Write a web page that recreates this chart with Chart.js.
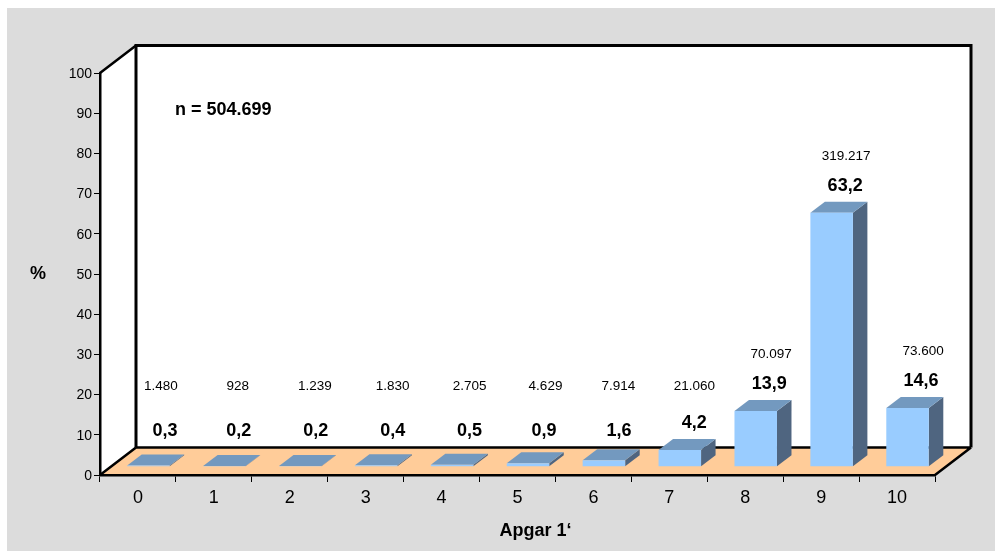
<!DOCTYPE html>
<html>
<head>
<meta charset="utf-8">
<style>html,body{margin:0;padding:0;background:#fff}canvas{display:block}</style>
<script src="https://cdn.jsdelivr.net/npm/chart.js@4/dist/chart.umd.min.js"></script>
</head>
<body>
<canvas id="apgar" width="995" height="551"></canvas>
<script>
// Apgar score after one minute: share of births per score and absolute counts
const scores = ['0','1','2','3','4','5','6','7','8','9','10'];
const percentValues = [0.3,0.2,0.2,0.4,0.5,0.9,1.6,4.2,13.9,63.2,14.6];
const percentLabels = ['0,3','0,2','0,2','0,4','0,5','0,9','1,6','4,2','13,9','63,2','14,6'];
const countLabels = ['1.480','928','1.239','1.830','2.705','4.629','7.914','21.060','70.097','319.217','73.600'];
const yTicks = [0,10,20,30,40,50,60,70,80,90,100];
const sampleNote = 'n = 504.699';
const yTitle = '%';
const xTitle = 'Apgar 1\u2018';

const FONT = '"Liberation Sans", Arial, sans-serif';
const C = {
  panel:'#DCDCDC', floor:'#FFCC99', wall:'#FFFFFF', line:'#000000',
  front:'#99CCFF', top:'#7399BF', side:'#4F6580'
};
// Room depth (floor and walls) and per-bar depth, in pixels
const ROOM = {dx:36, dy:-27.5};
const BAR = {dx:14.5, dy:-11, shiftX:10.5, shiftY:-8.2};
// Hand placement of the annotation columns relative to each category centre
const percentNudgeX = [27,25,26,27,28,26.5,25.5,25,24,24,24];
const countNudgeX = [23,24,25,27,28,28,25,25,26,25,26];

function poly(ctx, pts, fill){
  ctx.beginPath();
  pts.forEach((p,i)=> i ? ctx.lineTo(p[0],p[1]) : ctx.moveTo(p[0],p[1]));
  ctx.closePath();
  ctx.fillStyle = fill;
  ctx.fill();
}

const room3d = {
  id:'room3d',
  beforeDraw(chart){
    const {ctx, chartArea:{left:l,right:r,top:t,bottom:b}} = chart;
    const dx = ROOM.dx, dy = ROOM.dy;
    ctx.save();
    ctx.fillStyle = C.panel;
    ctx.fillRect(7,8,chart.width-7,chart.height-8);
    poly(ctx,[[l+dx,t+dy],[r+dx,t+dy],[r+dx,b+dy],[l+dx,b+dy]],C.wall);
    poly(ctx,[[l,t],[l+dx,t+dy],[l+dx,b+dy],[l,b]],C.wall);
    poly(ctx,[[l,b],[r,b],[r+dx,b+dy],[l+dx,b+dy]],C.floor);
    ctx.strokeStyle = C.line;
    ctx.lineJoin = 'miter';
    ctx.lineWidth = 2.5;
    ctx.beginPath();
    ctx.moveTo(l,t); ctx.lineTo(l+dx,t+dy);
    ctx.moveTo(l,b); ctx.lineTo(l+dx,b+dy);
    ctx.moveTo(r,b); ctx.lineTo(r+dx,b+dy);
    ctx.moveTo(l+dx,b+dy); ctx.lineTo(r+dx,b+dy);
    ctx.stroke();
    ctx.lineWidth = 3;
    ctx.beginPath();
    ctx.moveTo(l+dx,b+dy); ctx.lineTo(l+dx,t+dy); ctx.lineTo(r+dx,t+dy); ctx.lineTo(r+dx,b+dy);
    ctx.stroke();
    ctx.restore();
  },
  beforeDatasetDraw(chart, args){
    const ctx = chart.ctx;
    // Side and top faces go under the front face the library draws next
    args.meta.data.forEach(bar=>{
      const {x,y,base,width} = bar.getProps(['x','y','base','width'],true);
      const L = x-width/2+BAR.shiftX, R = x+width/2+BAR.shiftX;
      const T = y+BAR.shiftY, B = base+BAR.shiftY;
      poly(ctx,[[R,T],[R+BAR.dx,T+BAR.dy],[R+BAR.dx,B+BAR.dy],[R,B]],C.side);
      poly(ctx,[[L,T],[R,T],[R+BAR.dx,T+BAR.dy],[L+BAR.dx,T+BAR.dy]],C.top);
    });
    ctx.save();
    ctx.translate(BAR.shiftX,BAR.shiftY);
  },
  afterDatasetDraw(chart){
    chart.ctx.restore();
  },
  afterDraw(chart){
    const {ctx, scales:{x:xs,y:ys}} = chart;
    ctx.save();
    ctx.textAlign = 'center';
    ctx.textBaseline = 'middle';
    ctx.fillStyle = '#000';
    percentValues.forEach((v,i)=>{
      const cx = xs.getPixelForValue(i);
      const valueY = Math.min(431.5, ys.getPixelForValue(v)-35);
      const countY = Math.min(386, valueY-30);
      ctx.font = 'bold 18px '+FONT;
      ctx.fillText(percentLabels[i],cx+percentNudgeX[i],valueY);
      ctx.font = '13.5px '+FONT;
      ctx.fillText(countLabels[i],cx+countNudgeX[i],countY);
    });
    ctx.font = 'bold 18px '+FONT;
    ctx.fillText(yTitle,38,274);
    ctx.fillText(xTitle,535.5,531);
    ctx.textAlign = 'left';
    ctx.fillText(sampleNote,175,110.5);
    ctx.restore();
  }
};

new Chart(document.getElementById('apgar'),{
  type:'bar',
  data:{
    labels:scores,
    datasets:[{
      data:percentValues,
      backgroundColor:C.front,
      borderWidth:0,
      categoryPercentage:1,
      barPercentage:0.56,
      clip:false
    }]
  },
  plugins:[room3d],
  options:{
    responsive:false,
    animation:false,
    layout:{padding:{left:0,top:73,right:60,bottom:0}},
    plugins:{legend:{display:false},tooltip:{enabled:false},title:{display:false}},
    scales:{
      x:{
        afterFit(s){ s.height = 76; },
        grid:{drawOnChartArea:false,color:'#000',tickLength:7,tickWidth:1,tickColor:'#000'},
        border:{color:'#000',width:2.5},
        ticks:{color:'#000',font:{family:FONT,size:18},padding:5,maxRotation:0,autoSkip:false}
      },
      y:{
        min:0,max:100,
        afterFit(s){ s.width = 100; },
        afterBuildTicks(s){ s.ticks = yTicks.map(value=>({value})); },
        grid:{drawOnChartArea:false,tickLength:6,tickWidth:1,tickColor:'#000'},
        border:{color:'#000',width:2.5},
        ticks:{color:'#000',font:{family:FONT,size:14},padding:2,labelOffset:1}
      }
    }
  }
});
</script>
</body>
</html>
